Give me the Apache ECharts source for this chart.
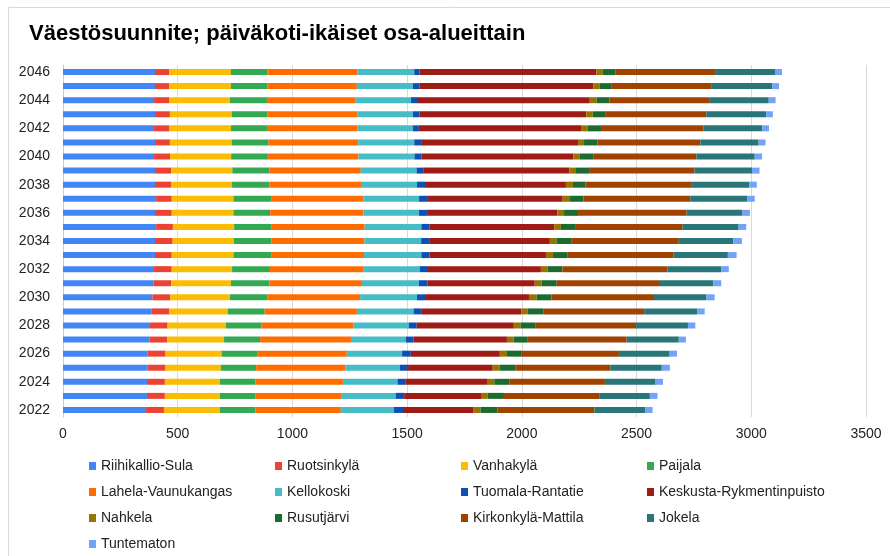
<!DOCTYPE html>
<html>
<head>
<meta charset="utf-8">
<script src="https://cdn.jsdelivr.net/npm/echarts@6/dist/echarts.min.js"></script>
<style>
  html, body { margin: 0; padding: 0; background: #fff; }
  #chart { width: 890px; height: 556px; }
</style>
</head>
<body>
<div id="chart"></div>
<script>
var years = ['2022', '2023', '2024', '2025', '2026', '2027', '2028', '2029', '2030', '2031', '2032', '2033',
  '2034', '2035', '2036', '2037', '2038', '2039', '2040', '2041', '2042', '2043', '2044', '2045', '2046'];

// arvot vuosittain 2022 -> 2046
var riihikallio = [362, 366, 366, 369, 369, 377, 379, 387, 390, 394, 397, 401, 401, 406, 401, 406, 401, 401, 397, 401, 397, 401, 397, 401, 401];
var ruotsinkyla = [78, 78, 78, 78, 78, 77, 77, 77, 77, 77, 77, 73, 77, 73, 73, 68, 70, 70, 70, 65, 65, 65, 65, 62, 62];
var vanhakyla = [244, 240, 240, 241, 244, 248, 253, 254, 261, 261, 263, 269, 267, 267, 269, 269, 266, 267, 266, 269, 270, 269, 266, 269, 269];
var paijala = [154, 154, 154, 154, 158, 157, 157, 161, 163, 167, 165, 164, 164, 164, 160, 164, 163, 161, 160, 161, 157, 157, 161, 160, 160];
var lahela = [373, 377, 382, 388, 388, 396, 399, 402, 404, 404, 406, 405, 405, 405, 406, 402, 399, 399, 395, 391, 395, 392, 387, 389, 392];
var kellokoski = [232, 235, 238, 238, 241, 240, 242, 247, 248, 248, 247, 250, 247, 247, 243, 243, 244, 243, 244, 244, 241, 241, 241, 244, 247];
var tuomala = [39, 37, 36, 36, 38, 33, 35, 33, 35, 38, 36, 35, 35, 35, 35, 35, 35, 29, 30, 30, 26, 29, 26, 28, 23];
var keskusta = [308, 335, 354, 369, 388, 407, 423, 436, 453, 467, 492, 508, 526, 544, 568, 591, 614, 637, 663, 684, 710, 727, 753, 759, 771];
var nahkela = [30, 29, 32, 31, 31, 29, 29, 29, 33, 31, 29, 31, 29, 29, 29, 32, 31, 29, 28, 26, 26, 28, 29, 28, 28];
var rusutjarvi = [74, 71, 67, 67, 65, 62, 64, 67, 65, 65, 65, 64, 64, 62, 61, 59, 55, 57, 58, 58, 58, 57, 57, 52, 54];
var kirkonkyla = [422, 415, 415, 415, 423, 431, 440, 440, 447, 450, 457, 460, 469, 469, 473, 465, 463, 459, 450, 449, 446, 438, 434, 436, 435];
var jokela = [222, 221, 221, 224, 221, 227, 226, 231, 228, 232, 235, 238, 237, 244, 244, 248, 250, 251, 254, 254, 257, 261, 260, 264, 264];
var tuntematon = [32, 33, 32, 35, 32, 31, 32, 33, 36, 35, 33, 38, 38, 33, 32, 33, 33, 33, 32, 30, 29, 29, 30, 29, 28];

var names = ['Riihikallio-Sula', 'Ruotsinkylä', 'Vanhakylä', 'Paijala', 'Lahela-Vaunukangas', 'Kellokoski',
  'Tuomala-Rantatie', 'Keskusta-Rykmentinpuisto', 'Nahkela', 'Rusutjärvi', 'Kirkonkylä-Mattila', 'Jokela', 'Tuntematon'];
var values = [riihikallio, ruotsinkyla, vanhakyla, paijala, lahela, kellokoski, tuomala, keskusta,
  nahkela, rusutjarvi, kirkonkyla, jokela, tuntematon];
var colors = ['#4285F4', '#EA4335', '#FBBC04', '#34A853', '#FF6D01', '#46BDC6', '#0D4FB3', '#9E1B16',
  '#9A7200', '#1D6A31', '#A04300', '#297679', '#71A3F7'];

var font = '"Liberation Sans", Arial, sans-serif';
var textStyle = {
  color: '#222222',
  fontSize: 14,
  fontFamily: font
};

var series = names.map(function (n, i) {
  return {
    name: n,
    type: 'bar',
    stack: 'total',
    barWidth: 6,
    data: values[i],
    itemStyle: { color: colors[i] }
  };
});

// legenda neljään sarakkeeseen
var colLefts = [89, 275, 461, 647];
var legends = colLefts.map(function (left, c) {
  var items = names.filter(function (n, i) { return i % 4 === c; });
  return {
    orient: 'vertical',
    left: left,
    top: 458,
    padding: 0,
    itemWidth: 7,
    itemHeight: 8,
    itemGap: 10,
    icon: 'rect',
    selectedMode: false,
    textStyle: { color: '#222222', fontSize: 14, fontFamily: font, lineHeight: 16 },
    data: items
  };
});

var chart = echarts.init(document.getElementById('chart'), null, { renderer: 'canvas' });
chart.setOption({
  animation: false,
  color: colors,
  title: {
    text: 'Väestösuunnite; päiväkoti-ikäiset osa-alueittain',
    left: 29,
    top: 23,
    padding: 0,
    textStyle: { fontSize: 22, fontWeight: 'bold', color: '#000000', fontFamily: font }
  },
  graphic: [{
    type: 'rect',
    shape: { x: 8.5, y: 7.5, width: 1000, height: 1000 },
    style: { fill: 'none', stroke: '#d9d9d9', lineWidth: 1 },
    silent: true
  }],
  legend: legends,
  grid: {
    left: 63,
    right: 24,
    top: 65,
    bottom: 139
  },
  xAxis: {
    type: 'value',
    min: 0,
    max: 3500,
    interval: 500,
    axisLine: { show: false },
    axisTick: { show: false },
    splitLine: { lineStyle: { color: '#d9d9d9', width: 1 } },
    axisLabel: Object.assign({ margin: 10, formatter: function (v) { return String(v); } }, textStyle)
  },
  yAxis: {
    type: 'category',
    data: years,
    axisTick: { show: false },
    axisLine: { lineStyle: { color: '#cccccc', width: 1 } },
    axisLabel: Object.assign({ interval: 1, margin: 13 }, textStyle)
  },
  series: series
});
</script>
</body>
</html>
